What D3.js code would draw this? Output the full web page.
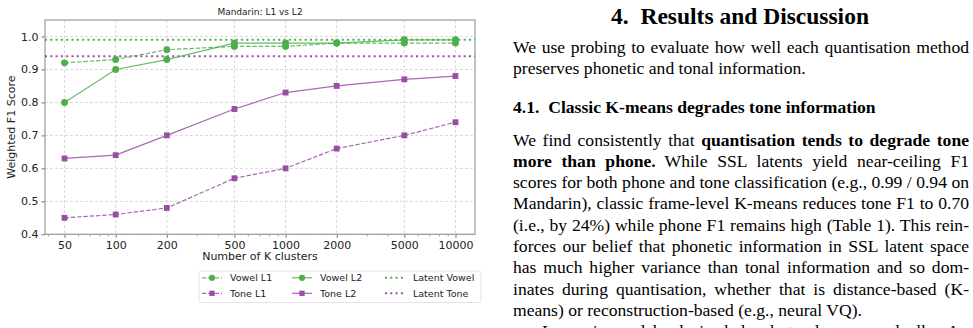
<!DOCTYPE html>
<html><head><meta charset="utf-8">
<script src="https://cdn.jsdelivr.net/npm/d3@7"></script>
<style>
html,body{margin:0;padding:0;background:#fff;}
svg{display:block;}
</style></head>
<body>
<svg id="c" width="973" height="328"></svg>
<script>
// ---- data ----
const clusters = [50, 100, 200, 500, 1000, 2000, 5000, 10000];
const xTickLabels = ["50","100","200","500","1000","2000","5000","10000"];
const yTicks = [0.4, 0.5, 0.6, 0.7, 0.8, 0.9, 1.0];
const vowelL1 = [0.92, 0.93, 0.96, 0.97, 0.97, 0.98, 0.98, 0.98];
const vowelL2 = [0.80, 0.90, 0.93, 0.98, 0.98, 0.98, 0.99, 0.99];
const toneL1  = [0.45, 0.46, 0.48, 0.57, 0.60, 0.66, 0.70, 0.74];
const toneL2  = [0.63, 0.64, 0.70, 0.78, 0.83, 0.85, 0.87, 0.88];
const latentVowel = 0.99;
const latentTone = 0.94;
const chartTitle = "Mandarin: L1 vs L2";
const legendLabels = ["Vowel L1","Vowel L2","Latent Vowel","Tone L1","Tone L2","Latent Tone"];

const heading = "4.\u2002Results and Discussion";
const para1 = [
  [["We use probing to evaluate how well each quantisation method",0]],
  [["preserves phonetic and tonal information.",0]]
];
const subheading = "4.1.\u2002Classic K-means degrades tone information";
const para2 = [
  [["We find consistently that ",0],["quantisation tends to degrade tone",1]],
  [["more than phone.",1],["\u2002While SSL latents yield near-ceiling F1",0]],
  [["scores for both phone and tone classification (e.g., 0.99 / 0.94 on",0]],
  [["Mandarin), classic frame-level K-means reduces tone F1 to 0.70",0]],
  [["(i.e., by 24%) while phone F1 remains high (Table 1). This rein-",0]],
  [["forces our belief that phonetic information in SSL latent space",0]],
  [["has much higher variance than tonal information and so dom-",0]],
  [["inates during quantisation, whether that is distance-based (K-",0]],
  [["means) or reconstruction-based (e.g., neural VQ).",0]],
  [["Increasing codebook size helps, but only very gradually.\u2002As",0]]
];

const GREEN = "#4daf4a", PURPLE = "#984ea3";
const svg = d3.select("#c");
const sans = "'DejaVu Sans', sans-serif";

const L = 45, R = 475, T = 20, B = 234.3;
const x = d3.scaleLog().domain([Math.pow(10, Math.log10(50) - 0.115), Math.pow(10, 4 + 0.115)]).range([L, R]);
const y = d3.scaleLinear().domain([0.4, 1.05]).range([B, T]);

// grid
const g = svg.append("g");
g.selectAll(".gx").data(clusters).enter().append("line")
  .attr("x1", d => x(d)).attr("x2", d => x(d)).attr("y1", T).attr("y2", B)
  .attr("stroke", "#cfcfcf").attr("stroke-width", 0.8).attr("stroke-dasharray", "3,2");
g.selectAll(".gy").data(yTicks).enter().append("line")
  .attr("x1", L).attr("x2", R).attr("y1", d => y(d)).attr("y2", d => y(d))
  .attr("stroke", "#cfcfcf").attr("stroke-width", 0.8).attr("stroke-dasharray", "3,2");

// axes
const xAxis = d3.axisBottom(x).tickValues(clusters).tickFormat((d,i) => xTickLabels[i]).tickSize(3.5).tickPadding(3);
const gx = svg.append("g").attr("transform", `translate(0,${B})`).call(xAxis);
const minor = [];
[10,100,1000,10000].forEach(p => { for (let k=2;k<10;k++){ const v=k*p; if (v>=x.domain()[0] && v<=x.domain()[1] && !clusters.includes(v)) minor.push(v);} });
svg.append("g").attr("transform", `translate(0,${B})`)
  .call(d3.axisBottom(x).tickValues(minor).tickFormat("").tickSize(2))
  .call(s => s.select(".domain").remove())
  .call(s => s.selectAll("line").attr("stroke", "#555").attr("stroke-width", 0.6));
const yAxis = d3.axisLeft(y).tickValues(yTicks).tickFormat(d3.format(".1f")).tickSize(3.5).tickPadding(3);
const gy = svg.append("g").attr("transform", `translate(${L},0)`).call(yAxis);
[gx, gy].forEach(a => {
  a.select(".domain").remove();
  a.selectAll("text").attr("font-family", sans).attr("font-size", 11).attr("fill", "#222");
  a.selectAll("line").attr("stroke", "#555").attr("stroke-width", 0.8);
});
// spines
svg.append("rect").attr("x", L).attr("y", T).attr("width", R-L).attr("height", B-T)
  .attr("fill", "none").attr("stroke", "#999").attr("stroke-width", 1.2);

// latent lines
[[latentVowel, GREEN],[latentTone, PURPLE]].forEach(([v,c]) => {
  svg.append("line").attr("x1", L).attr("x2", R).attr("y1", y(v)).attr("y2", y(v))
    .attr("stroke", c).attr("stroke-width", 2).attr("stroke-dasharray", "2,3.3");
});

const line = d3.line().x((d,i) => x(clusters[i])).y(d => y(d));
const series = [
  {v: vowelL1, c: GREEN, dash: "4.4,1.9", m: "circle"},
  {v: vowelL2, c: GREEN, dash: null, m: "circle"},
  {v: toneL1, c: PURPLE, dash: "4.4,1.9", m: "square"},
  {v: toneL2, c: PURPLE, dash: null, m: "square"}
];
series.forEach(s => {
  svg.append("path").datum(s.v).attr("d", line).attr("fill", "none")
    .attr("stroke", s.c).attr("stroke-width", 1.2).attr("stroke-opacity", 0.85)
    .attr("stroke-dasharray", s.dash);
  const sym = d3.symbol().type(s.m === "circle" ? d3.symbolCircle : d3.symbolSquare).size(s.m === "circle" ? 38 : 34);
  svg.append("g").selectAll("path").data(s.v).enter().append("path")
    .attr("d", sym).attr("transform", (d,i) => `translate(${x(clusters[i])},${y(d)})`)
    .attr("fill", s.c);
});

// title and labels
svg.append("text").attr("x", (L+R)/2).attr("y", 15).attr("text-anchor", "middle")
  .attr("font-family", sans).attr("font-size", 9).attr("fill", "#222").text(chartTitle);
svg.append("text").attr("transform", `translate(15,${(T+B)/2}) rotate(-90)`).attr("text-anchor", "middle")
  .attr("font-family", sans).attr("font-size", 11).attr("fill", "#222").text("Weighted F1 Score");
svg.append("text").attr("x", (L+R)/2).attr("y", 260).attr("text-anchor", "middle")
  .attr("font-family", sans).attr("font-size", 11).attr("fill", "#222").text("Number of K clusters");

// legend
const lg = svg.append("g");
lg.append("rect").attr("x", 199).attr("y", 271).attr("width", 282).attr("height", 31.5).attr("rx", 2)
  .attr("fill", "#fff").attr("stroke", "#ddd").attr("stroke-width", 0.8);
const legendItems = [
  {c: GREEN, dash: "4.4,1.9", m: "circle", col: 0, row: 0},
  {c: GREEN, dash: null, m: "circle", col: 1, row: 0},
  {c: GREEN, dash: "2,3.3", m: null, col: 2, row: 0},
  {c: PURPLE, dash: "4.4,1.9", m: "square", col: 0, row: 1},
  {c: PURPLE, dash: null, m: "square", col: 1, row: 1},
  {c: PURPLE, dash: "2,3.3", m: null, col: 2, row: 1}
];
const colX = [202, 292, 385], rowY = [277.8, 293.3];
legendItems.forEach((it, i) => {
  const x0 = colX[it.col], yy = rowY[it.row];
  lg.append("line").attr("x1", x0).attr("x2", x0+20).attr("y1", yy).attr("y2", yy)
    .attr("stroke", it.c).attr("stroke-width", it.m ? 1.2 : 2).attr("stroke-opacity", it.m ? 0.85 : 1)
    .attr("stroke-dasharray", it.dash);
  if (it.m) {
    const sym = d3.symbol().type(it.m === "circle" ? d3.symbolCircle : d3.symbolSquare).size(it.m === "circle" ? 30 : 28);
    lg.append("path").attr("d", sym).attr("transform", `translate(${x0+10},${yy})`).attr("fill", it.c);
  }
  lg.append("text").attr("x", x0+28).attr("y", yy+3.4).attr("font-family", sans).attr("font-size", 9.5)
    .attr("fill", "#222").text(legendLabels[i]);
});

// right-hand paper text
const serif = "'Liberation Serif', 'Times New Roman', serif";
const tx0 = 513, tw = 456, fs = 17.6;
svg.append("text").attr("x", 740).attr("y", 23.5).attr("text-anchor", "middle")
  .attr("font-family", serif).attr("font-weight", "bold").attr("font-size", 23.5).attr("fill", "#000").text(heading);

function para(lines, y0, dy, justified, indentLast) {
  lines.forEach((parts, i) => {
    const xx = (indentLast && i === lines.length-1) ? tx0 + 29 : tx0;
    const el = svg.append("text").attr("x", xx).attr("y", y0 + i*dy).attr("font-family", serif)
      .attr("font-size", fs).attr("fill", "#000");
    parts.forEach(([t,b]) => el.append("tspan").attr("font-weight", b ? "bold" : "normal").text(t));
    if (justified[i]) {
      const len = el.node().getComputedTextLength();
      const full = parts.map(p => p[0]).join("");
      const nSp = (full.match(/ /g) || []).length;
      if (nSp > 0) el.attr("word-spacing", (tw - len) / nSp);
    }
  });
}
para(para1, 52.5, 21.4, [true,false], false);
svg.append("text").attr("x", tx0).attr("y", 113).attr("font-family", serif).attr("font-weight", "bold")
  .attr("font-size", fs).attr("fill", "#000").text(subheading);
para(para2, 145.5, 21.3, [true,true,true,true,true,true,true,true,false,false], true);
</script>
</body></html>
